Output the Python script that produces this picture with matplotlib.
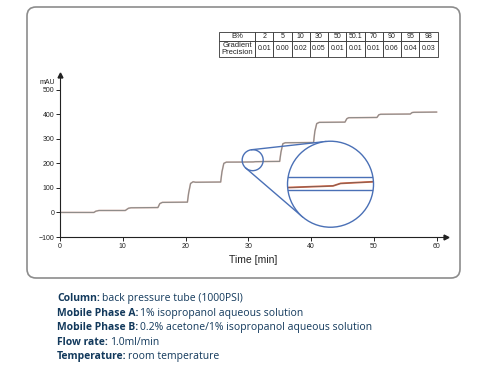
"""Gradient precision step test: absorbance trace with zoom detail and table."""

import matplotlib

matplotlib.use("Agg")

import matplotlib.pyplot as plt
import numpy as np
from matplotlib.patches import Circle, FancyBboxPatch

# ---- data -------------------------------------------------------------
time_min = [0, 5.4, 5.7, 6.2, 10.4, 10.9, 11.3, 15.6, 15.9, 16.3,
            20.3, 20.5, 20.8, 21.2, 21.6, 25.6, 25.8, 26.1, 26.5,
            29.0, 30.8, 31.1, 32.4, 35.0, 35.2, 35.5, 35.9,
            40.4, 40.6, 40.9, 41.3, 45.4, 45.7, 46.0,
            50.5, 50.8, 51.1, 55.8, 56.1, 56.4, 60]
signal_mau = [0, 0, 5, 8, 8, 17, 19, 20, 36, 41,
              42, 80, 118, 125, 123, 124, 165, 200, 205,
              205.3, 205.9, 206.8, 207.4, 208, 245, 280, 284,
              285, 330, 362, 367, 368, 382, 386,
              387, 398, 400, 401, 407, 408, 409]

b_percent = ["2", "5", "10", "30", "50", "50.1", "70", "90", "95", "98"]
gradient_precision = ["0.01", "0.00", "0.02", "0.05", "0.01",
                      "0.01", "0.01", "0.06", "0.04", "0.03"]

x_ticks = [0, 10, 20, 30, 40, 50, 60]
y_ticks = [-100, 0, 100, 200, 300, 400, 500]

# zoom detail: point of interest, where the magnified view sits, its window
zoom_focus = (30.7, 213)
zoom_center = (43.1, 115)
zoom_xlim = (29.0, 32.4)
zoom_ylim = (191.0, 222.0)
zoom_band = (204.5, 209.0)

conditions = [
    ("Column:", "back pressure tube (1000PSI)"),
    ("Mobile Phase A:", "1% isopropanol aqueous solution"),
    ("Mobile Phase B:", "0.2% acetone/1% isopropanol aqueous solution"),
    ("Flow rate:", "1.0ml/min"),
    ("Temperature:", "room temperature"),
]

# ---- style -------------------------------------------------------------
W, H = 479, 370
GRAY_TRACE = "#8f8c8a"
RED_TRACE = "#d4603f"
BLUE = "#4a70b6"
FRAME = "#8c8c8c"
NAVY = "#12395c"
CHART_FONT = "Liberation Sans"
TEXT_FONT = "Open Sans"

fig = plt.figure(figsize=(W / 100, H / 100), dpi=100, facecolor="white")

# decoration layer in pixel units (y down)
deco = fig.add_axes([0, 0, 1, 1], zorder=0)
deco.set_xlim(0, W)
deco.set_ylim(H, 0)
deco.axis("off")

deco.add_patch(FancyBboxPatch((27, 7), 433, 271,
                              boxstyle="round,pad=0,rounding_size=9",
                              facecolor="none", edgecolor=FRAME, linewidth=1.2))

# ---- main chromatogram --------------------------------------------------
ax = fig.add_axes([60 / W, (H - 237) / H, 386 / W, 162 / H], zorder=1)
ax.patch.set_alpha(0)
ax.plot(time_min, signal_mau, color=RED_TRACE, linewidth=1.2, alpha=0.3)
ax.plot(time_min, signal_mau, color=GRAY_TRACE, linewidth=0.9)
ax.set_xlim(0, 61.5)
ax.set_ylim(-100, 560)
ax.set_xticks(x_ticks)
ax.set_yticks(y_ticks)
for side in ("top", "right"):
    ax.spines[side].set_visible(False)
for side in ("left", "bottom"):
    ax.spines[side].set_color("#222222")
    ax.spines[side].set_linewidth(0.8)
ax.tick_params(length=3, width=0.7, labelsize=5, pad=1, colors="#222222")
for label in ax.get_xticklabels() + ax.get_yticklabels():
    label.set_family(CHART_FONT)
ax.plot(1, 0, ">", color="#222222", markersize=3.5, transform=ax.transAxes, clip_on=False)
ax.plot(0, 1, "^", color="#222222", markersize=3.5, transform=ax.transAxes, clip_on=False)
ax.text(-0.012, 0.955, "mAU", transform=ax.transAxes, ha="right", va="center",
        fontsize=5, family=CHART_FONT, color="#222222")
ax.set_xlabel("Time [min]", fontsize=7.5, family=CHART_FONT, labelpad=4, color="#222222")

# ---- zoom circles -------------------------------------------------------
to_px = deco.transData.inverted()
small_c = np.array(to_px.transform(ax.transData.transform(zoom_focus)))
big_c = np.array(to_px.transform(ax.transData.transform(zoom_center)))
r_small, r_big = 10.5, 43.0

deco_top = fig.add_axes([0, 0, 1, 1], zorder=2)
deco_top.set_xlim(0, W)
deco_top.set_ylim(H, 0)
deco_top.axis("off")
deco_top.add_patch(Circle(small_c, r_small, facecolor="none", edgecolor=BLUE, linewidth=1.0))

# external tangents between the two circles
d = big_c - small_c
dist = np.hypot(*d)
theta = np.arctan2(d[1], d[0])
alpha = np.arccos((r_small - r_big) / dist)
for sign in (1, -1):
    n = np.array([np.cos(theta + sign * alpha), np.sin(theta + sign * alpha)])
    p1 = small_c + r_small * n
    p2 = big_c + r_big * n
    deco_top.plot([p1[0], p2[0]], [p1[1], p2[1]], color=BLUE, linewidth=1.0)

# magnified view
zoom_ax = fig.add_axes([(big_c[0] - r_big) / W, (H - big_c[1] - r_big) / H,
                        2 * r_big / W, 2 * r_big / H], zorder=3)
zoom_ax.axis("off")
zoom_ax.set_xlim(*zoom_xlim)
zoom_ax.set_ylim(*zoom_ylim)
disc = Circle((0.5, 0.5), 0.5, transform=zoom_ax.transAxes,
              facecolor="white", edgecolor="none", zorder=0)
zoom_ax.add_patch(disc)
zoom_lines = [
    zoom_ax.axhline(zoom_band[0], color=BLUE, linewidth=1.0),
    zoom_ax.axhline(zoom_band[1], color=BLUE, linewidth=1.0),
    zoom_ax.plot(time_min, signal_mau, color=RED_TRACE, linewidth=1.3)[0],
    zoom_ax.plot(time_min, signal_mau, color="#6b5f5a", linewidth=0.5)[0],
]
for line in zoom_lines:
    line.set_clip_path(disc)
zoom_ax.add_patch(Circle((0.5, 0.5), 0.5, transform=zoom_ax.transAxes,
                         facecolor="none", edgecolor=BLUE, linewidth=1.0,
                         clip_on=False, zorder=5))

# ---- precision table ----------------------------------------------------
first_w, col_w = 36.0, 18.27
table_w = first_w + col_w * len(b_percent)
table = deco_top.table(
    cellText=[["B%"] + b_percent, ["Gradient\nPrecision"] + gradient_precision],
    colWidths=[first_w / table_w] + [col_w / table_w] * len(b_percent),
    cellLoc="center",
    bbox=[219 / W, (H - 56.7) / H, table_w / W, 24.4 / H],
)
table.auto_set_font_size(False)
for (row, col), cell in table.get_celld().items():
    cell.set_height(1.0 if row == 0 else 1.9)
    cell.set_linewidth(0.6)
    cell.set_edgecolor("#333333")
    cell.PAD = 0.02
    cell.get_text().set_fontsize(5.5 if col == 0 else 5.0)
    cell.get_text().set_family(CHART_FONT)
    cell.get_text().set_linespacing(1.0)
    cell.get_text().set_color("#222222")

# ---- run conditions -----------------------------------------------------
line_y = [301, 316, 330, 345, 359]
for (label, value), y in zip(conditions, line_y):
    head = deco.text(57, y, label, fontsize=7.5, fontweight="bold", family=TEXT_FONT,
                     color=NAVY, va="baseline", ha="left")
    deco.annotate(value, xy=(1, y), xycoords=(head, deco.transData),
                  xytext=(1.2, 0), textcoords="offset points",
                  fontsize=7.5, family=TEXT_FONT, color=NAVY, va="baseline", ha="left")

fig.savefig("out.png", dpi=100, facecolor="white")
